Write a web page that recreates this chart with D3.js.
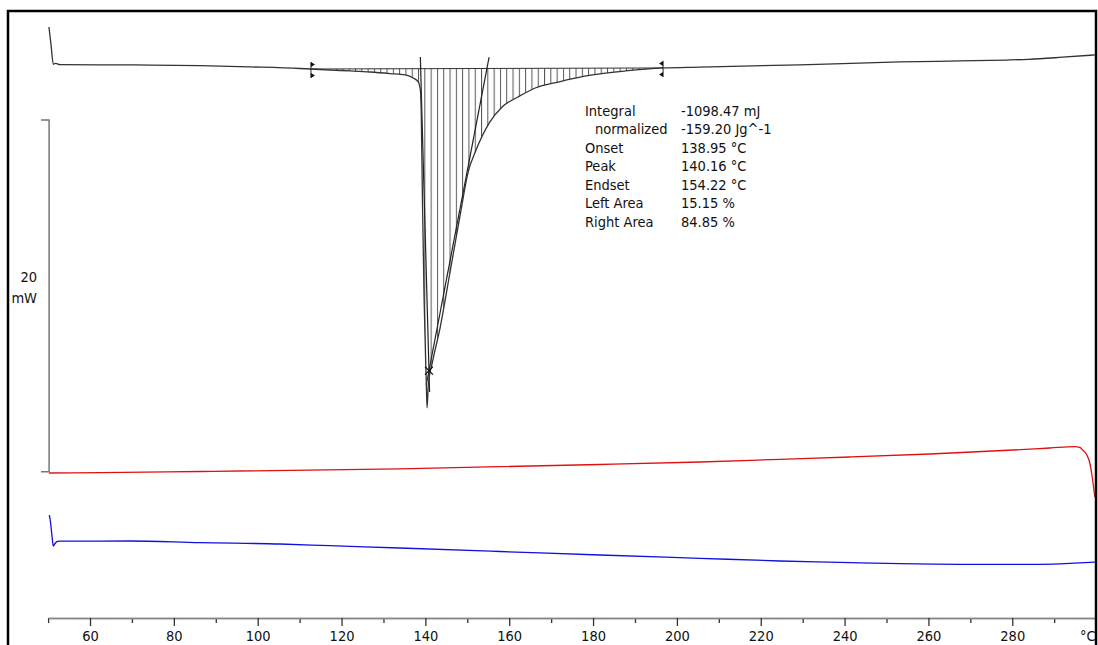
<!DOCTYPE html>
<html>
<head>
<meta charset="utf-8">
<script src="https://cdn.jsdelivr.net/npm/d3@7"></script>
<style>
  body { margin: 0; background: #fff; }
  text { font-family: "DejaVu Sans Condensed", "DejaVu Sans", sans-serif; fill: #111; }
</style>
</head>
<body>
<script>
// heat flow curve (°C, mW) - top trace with the melting peak
const dscTemp = [50.2, 50.7, 51.24, 51.77, 52.1, 52.8, 70.7, 86.2, 98.0, 110.1, 112.7, 117.3, 122.0, 126.8, 131.6, 135.2, 137.1, 138.3, 138.8, 139.0, 139.3, 139.7, 140.2, 140.4, 140.7, 141.7, 143.5, 145.9, 148.3, 150.2, 151.9, 155.4, 158.3, 162.1, 166.2, 171.7, 179.8, 187.7, 196.7, 205.5, 229.3, 253.2, 267.5, 278.7, 283.9, 292.0, 299.7]
const dscFlow = [25.29, 24.27, 23.17, 23.22, 23.2, 23.15, 23.13, 23.09, 23.02, 22.93, 22.9, 22.84, 22.79, 22.73, 22.64, 22.56, 22.39, 22.16, 21.71, 20.57, 15.45, 9.77, 5.22, 3.63, 4.93, 6.24, 8.17, 11.37, 14.6, 17.04, 18.18, 19.89, 20.74, 21.31, 21.82, 22.16, 22.56, 22.79, 22.96, 23.01, 23.14, 23.3, 23.36, 23.41, 23.45, 23.57, 23.7]

// red trace
const redTemp = [50.2, 62.4, 86.2, 133.9, 181.6, 205.5, 224.6, 241.3, 260.4, 280.2, 289.0, 294.9, 296.1, 296.8, 297.8, 298.5, 299.0, 299.7]
const redFlow = [-0.074, -0.051, 0.011, 0.165, 0.409, 0.552, 0.705, 0.836, 1.007, 1.234, 1.348, 1.422, 1.388, 1.234, 0.95, 0.495, -0.188, -1.439]

// blue trace
const blueTemp = [50.3, 50.57, 50.93, 51.24, 51.65, 52.24, 52.84, 69.5, 86.2, 105.3, 117.2, 133.9, 157.8, 181.6, 205.5, 224.6, 238.9, 253.2, 267.5, 286.6, 294.9, 299.7]
const blueFlow = [-2.462, -2.86, -3.657, -4.226, -4.083, -3.958, -3.952, -3.941, -4.038, -4.111, -4.208, -4.339, -4.538, -4.737, -4.925, -5.078, -5.152, -5.232, -5.266, -5.266, -5.203, -5.146]

// integration limits and tangents
const integLimits = [112.7, 196.7]
const baselineFlow = [22.9, 22.96]
const onsetTangent = [[138.8, 23.58], [141.0, 4.53]]
const endsetTangent = [[155.2, 23.58], [140.2, 4.93]]

const resultLabels = ["Integral", "normalized", "Onset", "Peak", "Endset", "Left Area", "Right Area"]
const resultValues = ["-1098.47 mJ", "-159.20 Jg^-1", "138.95 °C", "140.16 °C", "154.22 °C", "15.15 %", "84.85 %"]

const majorTicks = [60, 80, 100, 120, 140, 160, 180, 200, 220, 240, 260, 280]
const minorTicks = [50, 70, 90, 110, 130, 150, 170, 190, 210, 230, 250, 270, 290]
const scaleBar = [0, 20]

const width = 1098
const height = 645

const x = d3.scaleLinear().domain([50, 300]).range([48.1, 1096.1])
const y = d3.scaleLinear().domain([0, 20]).range([471.7, 120])
const axisY = 618

const svg = d3.select("body").append("svg")
    .attr("width", width)
    .attr("height", height)

const zip = (a, b) => a.map((t, i) => [t, b[i]])
const dscPts = zip(dscTemp, dscFlow)

const line = d3.line().x(d => x(d[0])).y(d => y(d[1])).curve(d3.curveMonotoneX)

// hatch pattern for the integrated area
const pat = svg.append("defs").append("pattern")
    .attr("id", "hatch")
    .attr("patternUnits", "userSpaceOnUse")
    .attr("width", 6.3)
    .attr("height", 10)
    .attr("x", x(integLimits[0]))
pat.append("line").attr("x1", 0.5).attr("x2", 0.5).attr("y1", 0).attr("y2", 10)
    .attr("stroke", "#555").attr("stroke-width", 1)

const inside = dscPts.filter(d => d[0] > integLimits[0] && d[0] < integLimits[1])
const areaPts = [[integLimits[0], baselineFlow[0]], ...inside, [integLimits[1], baselineFlow[1]]]
svg.append("path")
    .attr("d", line(areaPts) + "Z")
    .attr("fill", "url(#hatch)")

// baseline
svg.append("line")
    .attr("x1", x(integLimits[0])).attr("y1", y(baselineFlow[0]))
    .attr("x2", x(integLimits[1])).attr("y2", y(baselineFlow[1]))
    .attr("stroke", "#333").attr("stroke-width", 1)

// tangents
;[onsetTangent, endsetTangent].forEach(t => {
    svg.append("line")
        .attr("x1", x(t[0][0])).attr("y1", y(t[0][1]))
        .attr("x2", x(t[1][0])).attr("y2", y(t[1][1]))
        .attr("stroke", "#222").attr("stroke-width", 1.2)
})

// curves
svg.append("path").attr("d", line(dscPts)).attr("fill", "none").attr("stroke", "#333").attr("stroke-width", 1.3)
svg.append("path").attr("d", line(zip(redTemp, redFlow))).attr("fill", "none").attr("stroke", "#e01010").attr("stroke-width", 1.3)
svg.append("path").attr("d", line(zip(blueTemp, blueFlow))).attr("fill", "none").attr("stroke", "#1010e0").attr("stroke-width", 1.3)

// cross at tangent intersection
const p = onsetTangent.map(d => [x(d[0]), y(d[1])])
const q = endsetTangent.map(d => [x(d[0]), y(d[1])])
const den = (p[0][0] - p[1][0]) * (q[0][1] - q[1][1]) - (p[0][1] - p[1][1]) * (q[0][0] - q[1][0])
const tt = ((p[0][0] - q[0][0]) * (q[0][1] - q[1][1]) - (p[0][1] - q[0][1]) * (q[0][0] - q[1][0])) / den
const cx = p[0][0] + tt * (p[1][0] - p[0][0])
const cy = p[0][1] + tt * (p[1][1] - p[0][1])
svg.append("path")
    .attr("d", `M${cx - 4},${cy - 4}L${cx + 4},${cy + 4}M${cx - 4},${cy + 4}L${cx + 4},${cy - 4}`)
    .attr("stroke", "#111").attr("stroke-width", 1.3)

// integration limit markers
integLimits.forEach((t, i) => {
    const mx = x(t)
    const my = y(baselineFlow[i])
    const dir = i === 0 ? 1 : -1
    svg.append("line").attr("x1", mx).attr("x2", mx).attr("y1", my - 7).attr("y2", my + 9)
        .attr("stroke", "#222").attr("stroke-width", 1)
    svg.append("path")
        .attr("d", `M${mx},${my - 7}L${mx + 4 * dir},${my - 4.5}L${mx},${my - 2}Z M${mx},${my + 4}L${mx + 4 * dir},${my + 6.5}L${mx},${my + 9}Z`)
        .attr("fill", "#111")
})

// results text
const resG = svg.append("g").style("font-size", "14.5px")
resultLabels.forEach((l, i) => {
    resG.append("text").attr("x", i === 1 ? 595 : 585).attr("y", 115.7 + 18.5 * i).text(l)
    resG.append("text").attr("x", 681).attr("y", 115.7 + 18.5 * i).text(resultValues[i])
})

// scale bar
svg.append("path")
    .attr("d", `M41,${y(scaleBar[1])}H${x(50) + 1}V${y(scaleBar[0])}H41`)
    .attr("fill", "none").attr("stroke", "#777").attr("stroke-width", 1.5)
svg.append("text").attr("x", 37).attr("y", 282).attr("text-anchor", "end").style("font-size", "14.5px").text(scaleBar[1])
svg.append("text").attr("x", 37).attr("y", 303).attr("text-anchor", "end").style("font-size", "14.5px").text("mW")

// x axis
const gx = svg.append("g").attr("transform", `translate(0,${axisY})`)
gx.append("g")
    .call(d3.axisBottom(x).tickValues(minorTicks).tickSize(5).tickSizeOuter(0).tickFormat(""))
gx.append("g")
    .call(d3.axisBottom(x).tickValues(majorTicks).tickSize(8).tickSizeOuter(0))
gx.selectAll(".domain").attr("stroke", "#888").attr("stroke-width", 1.5)
gx.selectAll(".tick line").attr("stroke", "#333").attr("stroke-width", 1.3)
gx.selectAll(".tick text").attr("y", 23).attr("dy", null)
    .style("font-family", "'DejaVu Sans Condensed', 'DejaVu Sans', sans-serif")
    .style("font-size", "14.5px").attr("fill", "#111")
gx.append("text").attr("x", 1080).attr("y", 23).style("font-size", "14.5px").text("°C")

// frame
svg.append("rect")
    .attr("x", 8).attr("y", 11).attr("width", 1088).attr("height", 700)
    .attr("fill", "none").attr("stroke", "#000").attr("stroke-width", 2.5)
</script>
</body>
</html>
